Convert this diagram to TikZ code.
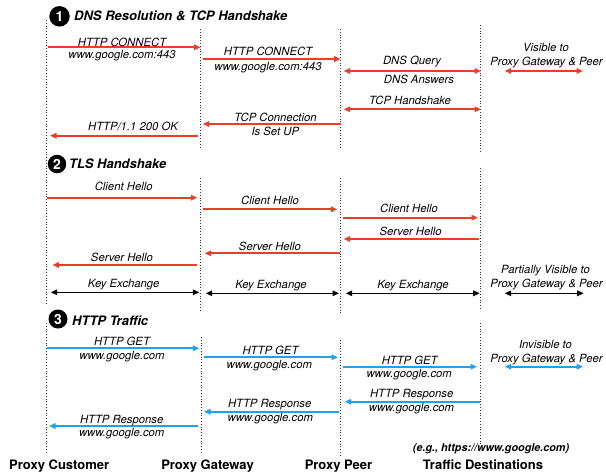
\documentclass[tikz,border=0pt]{standalone}
\usepackage{fontspec}
\setmainfont{TeX Gyre Heros}
\usetikzlibrary{arrows.meta}
\definecolor{myred}{RGB}{235,62,42}
\definecolor{myblue}{RGB}{28,162,242}
\tikzset{
  lbl/.style={font=\fontsize{11.3}{12}\selectfont\itshape, anchor=base, inner sep=0pt},
  ttl/.style={font=\fontsize{13}{14}\selectfont\bfseries\itshape, anchor=base west, inner sep=0pt},
  actor/.style={font=\fontsize{13}{14}\selectfont\bfseries, anchor=base, inner sep=0pt},
  note/.style={font=\fontsize{10.8}{12}\selectfont\bfseries\itshape, anchor=base, inner sep=0pt},
  num/.style={circle, fill=black, text=white, inner sep=0pt, font=\fontsize{14}{14}\selectfont\bfseries},
  life/.style={dotted, line width=0.8pt, black!80},
  tip/.tip={Triangle[length=6.5pt,width=5.5pt]},
  msgred/.style={draw=myred, line width=1.7pt, -tip},
  dblred/.style={draw=myred, line width=1.7pt, tip-tip},
  dblblk/.style={draw=black, line width=1.5pt, tip-tip},
  msgblue/.style={draw=myblue, line width=1.7pt, -tip},
  dblblue/.style={draw=myblue, line width=1.7pt, tip-tip},
}
\newcommand{\msgline}[5]{%
  \coordinate (#2a) at (#3,#5);
  \coordinate (#2b) at (#4,#5);
  \draw[#1] (#2a) -- (#2b);}
\newcommand{\lifeseg}[4]{%
  \coordinate (#1a) at (#2,#3);
  \coordinate (#1b) at (#2,#4);
  \draw[life] (#1a) -- (#1b);}
\newcommand{\lab}[4][lbl]{\node[#1] (#2) at (#3) {#4};}
\begin{document}
\begin{tikzpicture}[x=1pt,y=-1pt]
\useasboundingbox (0,0) rectangle (606,475);
% lifelines
\lifeseg{lc1}{46.7}{20}{305}
\lifeseg{lc3}{46.7}{323}{453}
\lifeseg{lg1}{200.5}{29}{147}
\lifeseg{lg2}{200.5}{178}{310}
\lifeseg{lg3}{201.5}{337}{453}
\lifeseg{lp1}{340.7}{29}{147}
\lifeseg{lp2}{340.7}{178}{313}
\lifeseg{lp3}{340.5}{340}{457}
\lifeseg{ld1}{480.7}{25}{152}
\lifeseg{ld2}{480.7}{168}{310}
\lifeseg{ld3}{480.7}{323}{445}
% titles
\node[num, minimum size=20.5pt] (n1) at (59.5,16.3) {1};
\lab[ttl]{t1}{74,20.5}{DNS Resolution \& TCP Handshake}
\node[num, minimum size=18.5pt] (n2) at (57,164) {2};
\lab[ttl]{t2}{69,168.3}{TLS Handshake}
\node[num, minimum size=19pt] (n3) at (58,319) {3};
\lab[ttl]{t3}{72,325}{HTTP Traffic}
% section 1
\msgline{msgred}{m1}{47.7}{200.5}{47.3}
\msgline{msgred}{m2}{203}{340.7}{59}
\msgline{dblred}{m3}{343.7}{481}{71}
\msgline{dblred}{m4}{343.7}{481}{109.3}
\msgline{dblred}{m5}{504.7}{583}{71}
\msgline{msgred}{m6}{341}{202.7}{124}
\msgline{msgred}{m7}{198}{50}{135.7}
\lab{l1a}{122,46}{HTTP CONNECT}
\lab{l1b}{122,58.5}{www.google.com:443}
\lab{l2a}{268,55.5}{HTTP CONNECT}
\lab{l2b}{268,70.5}{www.google.com:443}
\lab{l3a}{412,64.5}{DNS Query}
\lab{l3b}{419,83}{DNS Answers}
\lab{l4a}{410,104.5}{TCP Handshake}
\lab{l5a}{546,51}{Visible to}
\lab{l5b}{546.5,65}{Proxy Gateway \& Peer}
\lab{l6a}{275.5,121.5}{TCP Connection}
\lab{l6b}{275.3,135}{Is Set UP}
\lab{l7a}{133,130.7}{HTTP/1.1 200 OK}
% section 2
\msgline{msgred}{c1}{47}{197.3}{197.7}
\msgline{msgred}{c2}{203}{337.3}{209.3}
\msgline{msgred}{c3}{343}{478}{217.7}
\msgline{msgred}{s1}{478.7}{343.7}{239}
\msgline{msgred}{s2}{339.7}{204.7}{253.3}
\msgline{msgred}{s3}{196.7}{52.3}{265}
\msgline{dblblk}{k1}{50.7}{199.3}{292.3}
\msgline{dblblk}{k2}{205.7}{339}{293.3}
\msgline{dblblk}{k3}{345.7}{479.7}{293.3}
\msgline{dblblk}{k4}{504.7}{583.7}{293.3}
\lab{lc1t}{123.7,190}{Client Hello}
\lab{lc2t}{270,204.3}{Client Hello}
\lab{lc3t}{409,212.7}{Client Hello}
\lab{ls1t}{410.7,235}{Server Hello}
\lab{ls2t}{270,250}{Server Hello}
\lab{ls3t}{122,261}{Server Hello}
\lab{lk1t}{123.7,287.3}{Key Exchange}
\lab{lk2t}{271,288}{Key Exchange}
\lab{lk3t}{413,288.3}{Key Exchange}
\lab{lk4a}{545.5,273.3}{Partially Visible to}
\lab{lk4b}{546.5,287.7}{Proxy Gateway \& Peer}
% section 3
\msgline{msgblue}{g1}{46.5}{199.3}{348.3}
\msgline{msgblue}{g2}{204}{338}{357.3}
\msgline{msgblue}{g3}{343}{477}{366.7}
\msgline{msgblue}{r1}{479.7}{344.7}{401.7}
\msgline{msgblue}{r2}{338.7}{204}{411.7}
\msgline{msgblue}{r3}{198.3}{49}{426}
\msgline{dblblue}{v3}{504.7}{583}{366.7}
\lab{lg1a}{122,345.7}{HTTP GET}
\lab{lg1b}{122,359.3}{www.google.com}
\lab{lg2a}{270.5,354.3}{HTTP GET}
\lab{lg2b}{269.3,368.3}{www.google.com}
\lab{lg3a}{409.7,364}{HTTP GET}
\lab{lg3b}{409.2,377.7}{www.google.com}
\lab{lr1a}{411.7,397.7}{HTTP Response}
\lab{lr1b}{411.5,411.7}{www.google.com}
\lab{lr2a}{269.7,407.7}{HTTP Response}
\lab{lr2b}{270.3,421.7}{www.google.com}
\lab{lr3a}{121.7,423.3}{HTTP Response}
\lab{lr3b}{121.7,436.7}{www.google.com}
\lab{lv3a}{545.5,348.3}{Invisible to}
\lab{lv3b}{546.5,362.7}{Proxy Gateway \& Peer}
\lab[note]{eg}{491,451.7}{(e.g., https://www.google.com)}
% actors
\lab[actor]{a1}{59.2,469}{Proxy Customer}
\lab[actor]{a2}{207.5,469}{Proxy Gateway}
\lab[actor]{a3}{338.5,469}{Proxy Peer}
\lab[actor]{a4}{483,469}{Traffic Destinations}
\end{tikzpicture}
\end{document}
